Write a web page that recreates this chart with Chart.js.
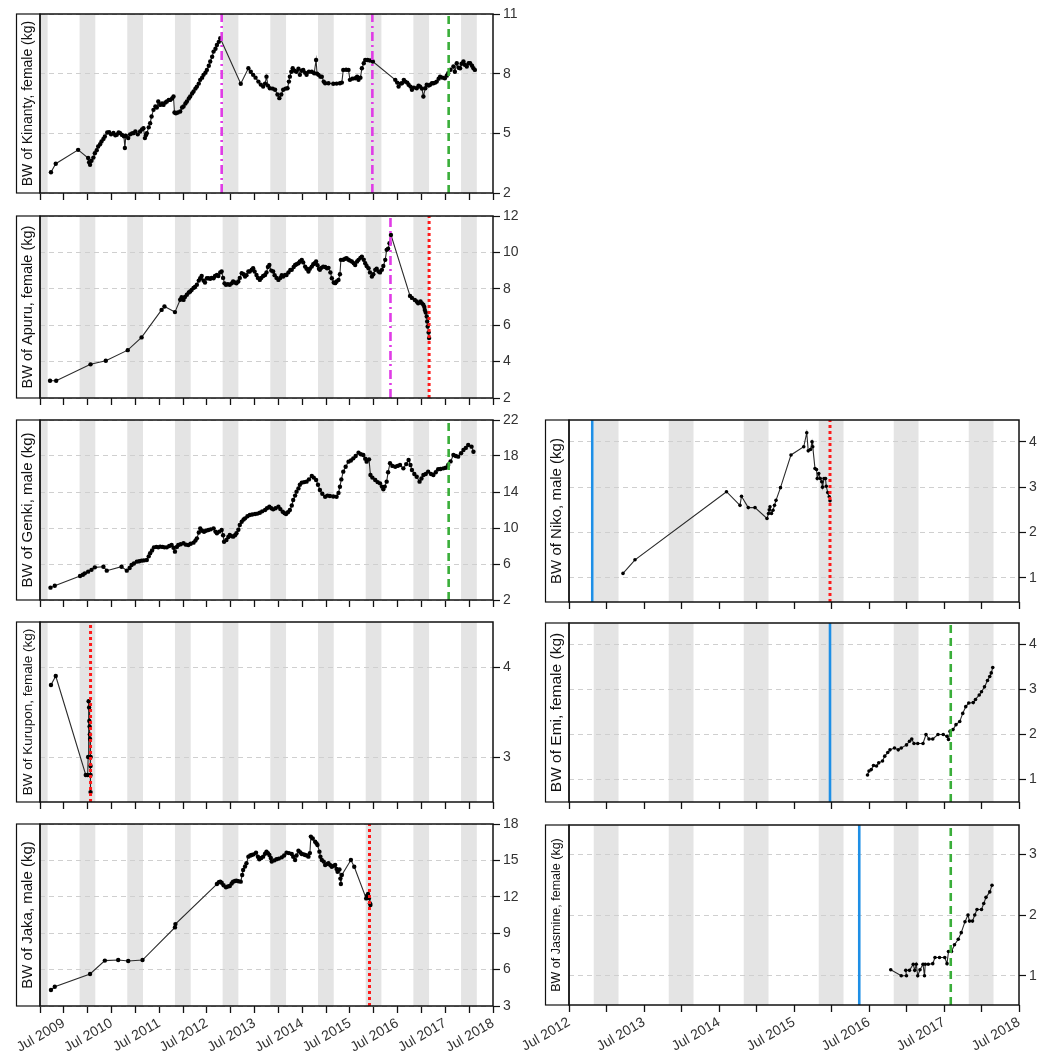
<!DOCTYPE html>
<html><head><meta charset="utf-8">
<script src="https://cdn.jsdelivr.net/npm/chart.js@4.4.1/dist/chart.umd.min.js"></script>
<style>
body{margin:0;background:#fff;width:1041px;height:1059px;position:relative;overflow:hidden}
canvas{position:absolute}
</style></head><body>
<canvas id="c1"></canvas><canvas id="c2"></canvas><canvas id="c3"></canvas><canvas id="c4"></canvas><canvas id="c5"></canvas>
<canvas id="c6"></canvas><canvas id="c7"></canvas><canvas id="c8"></canvas>
<script>
// ---------- tick labels / axis values ----------
const leftXTicks = [2009,2009.5,2010,2010.5,2011,2011.5,2012,2012.5,2013,2013.5,2014,2014.5,2015,2015.5,2016,2016.5,2017,2017.5,2018,2018.5];
const rightXTicks = [2012.5,2013,2013.5,2014,2014.5,2015,2015.5,2016,2016.5,2017,2017.5,2018,2018.5];
const wetStart = [2008.83,2009.83,2010.83,2011.83,2012.83,2013.83,2014.83,2015.83,2016.83,2017.83];
const wetEnd   = [2009.16,2010.16,2011.16,2012.16,2013.16,2014.16,2015.16,2016.16,2017.16,2018.16];

const kinantyYTicks = [2,5,8,11];
const apuruYTicks = [2,4,6,8,10,12];
const genkiYTicks = [2,6,10,14,18,22];
const kuruponYTicks = [3,4];
const jakaYTicks = [3,6,9,12,15,18];
const nikoYTicks = [1,2,3,4];
const emiYTicks = [1,2,3,4];
const jasmineYTicks = [1,2,3];

// ---------- body weight series [decimal year, kg] ----------
const kinanty = [[2009.23,3.04],[2009.33,3.47],[2009.80,4.17],[2010.01,3.76],[2010.03,3.55],[2010.05,3.42],[2010.08,3.62],[2010.12,3.78],[2010.15,4.00],[2010.19,4.15],[2010.22,4.34],[2010.26,4.45],[2010.29,4.59],[2010.33,4.72],[2010.36,4.84],[2010.41,5.04],[2010.45,5.06],[2010.49,4.95],[2010.54,5.02],[2010.58,4.90],[2010.61,4.93],[2010.65,5.05],[2010.68,5.01],[2010.72,4.92],[2010.76,4.85],[2010.78,4.26],[2010.80,4.88],[2010.85,4.76],[2010.89,4.95],[2010.93,5.00],[2010.96,5.01],[2011.00,5.10],[2011.05,4.95],[2011.10,5.09],[2011.14,5.20],[2011.17,5.26],[2011.20,4.76],[2011.22,4.90],[2011.24,5.01],[2011.28,5.30],[2011.31,5.51],[2011.34,5.85],[2011.38,6.18],[2011.42,6.35],[2011.45,6.30],[2011.48,6.60],[2011.52,6.43],[2011.56,6.50],[2011.59,6.43],[2011.63,6.55],[2011.66,6.60],[2011.70,6.68],[2011.73,6.68],[2011.77,6.75],[2011.80,6.85],[2011.82,6.05],[2011.85,6.01],[2011.89,6.05],[2011.94,6.10],[2011.98,6.30],[2012.01,6.35],[2012.05,6.50],[2012.08,6.60],[2012.12,6.75],[2012.15,6.85],[2012.19,7.00],[2012.22,7.10],[2012.26,7.25],[2012.29,7.35],[2012.33,7.50],[2012.36,7.69],[2012.40,7.80],[2012.43,7.94],[2012.47,8.05],[2012.50,8.19],[2012.54,8.40],[2012.57,8.61],[2012.61,8.85],[2012.64,9.11],[2012.68,9.25],[2012.71,9.44],[2012.75,9.60],[2012.78,9.78],
[2013.21,7.49],[2013.37,8.27],[2013.42,8.10],[2013.47,7.94],[2013.52,7.80],[2013.58,7.60],[2013.63,7.45],[2013.68,7.35],[2013.72,7.50],[2013.75,7.85],[2013.78,7.40],[2013.82,7.27],[2013.88,7.25],[2013.93,7.19],[2013.98,6.95],[2014.02,6.77],[2014.06,6.95],[2014.10,7.19],[2014.15,7.25],[2014.19,7.27],[2014.22,7.60],[2014.24,7.85],[2014.27,8.10],[2014.30,8.27],[2014.34,8.15],[2014.38,8.10],[2014.42,8.25],[2014.45,7.94],[2014.49,8.15],[2014.52,8.19],[2014.56,8.05],[2014.59,7.94],[2014.64,8.10],[2014.70,8.10],[2014.75,8.02],[2014.79,8.69],[2014.81,8.00],[2014.84,7.94],[2014.88,7.85],[2014.91,7.85],[2014.95,7.60],[2014.98,7.52],[2015.05,7.52],[2015.15,7.49],[2015.22,7.50],[2015.29,7.52],[2015.33,7.55],[2015.36,8.19],[2015.42,8.20],[2015.47,8.19],[2015.50,7.69],[2015.55,7.75],[2015.61,7.77],[2015.65,7.85],[2015.68,7.69],[2015.72,7.80],[2015.75,8.27],[2015.79,8.52],[2015.82,8.69],[2015.87,8.69],[2015.92,8.66],[2015.98,8.61],
[2016.45,7.69],[2016.49,7.55],[2016.52,7.35],[2016.56,7.50],[2016.59,7.52],[2016.63,7.69],[2016.66,7.60],[2016.70,7.55],[2016.73,7.44],[2016.77,7.35],[2016.80,7.19],[2016.84,7.30],[2016.90,7.27],[2016.94,7.40],[2016.97,7.35],[2017.01,7.25],[2017.04,6.85],[2017.08,7.27],[2017.11,7.44],[2017.15,7.40],[2017.18,7.44],[2017.22,7.52],[2017.25,7.52],[2017.29,7.55],[2017.32,7.60],[2017.36,7.75],[2017.39,7.85],[2017.44,7.80],[2017.49,7.77],[2017.53,7.90],[2017.56,8.02],[2017.61,8.20],[2017.67,8.36],[2017.70,8.10],[2017.74,8.52],[2017.78,8.30],[2017.81,8.27],[2017.84,8.50],[2017.88,8.61],[2017.91,8.45],[2017.95,8.36],[2017.99,8.52],[2018.02,8.52],[2018.06,8.40],[2018.09,8.27],[2018.12,8.19]];

const apuru = [[2009.21,2.95],[2009.34,2.95],[2010.06,3.85],[2010.38,4.05],[2010.84,4.63],[2011.13,5.33],[2011.55,6.84],[2011.61,7.03],[2011.83,6.72],[2011.94,7.40],[2011.97,7.54],[2012.01,7.39],[2012.04,7.55],[2012.08,7.67],[2012.12,7.80],[2012.15,7.85],[2012.18,7.94],[2012.22,8.05],[2012.25,8.10],[2012.29,8.22],[2012.33,8.45],[2012.36,8.58],[2012.39,8.70],[2012.43,8.45],[2012.46,8.34],[2012.50,8.58],[2012.53,8.58],[2012.57,8.55],[2012.60,8.60],[2012.64,8.58],[2012.67,8.70],[2012.71,8.76],[2012.74,8.70],[2012.78,8.90],[2012.81,8.95],[2012.84,8.60],[2012.87,8.30],[2012.90,8.22],[2012.94,8.25],[2012.98,8.22],[2013.02,8.30],[2013.05,8.40],[2013.09,8.35],[2013.12,8.30],[2013.16,8.40],[2013.19,8.60],[2013.23,8.86],[2013.27,8.80],[2013.30,8.67],[2013.33,8.75],[2013.37,8.95],[2013.40,8.95],[2013.44,9.05],[2013.47,9.13],[2013.50,8.95],[2013.54,8.76],[2013.57,8.60],[2013.61,8.49],[2013.64,8.60],[2013.68,8.70],[2013.72,8.76],[2013.75,8.90],[2013.78,9.20],[2013.81,9.31],[2013.85,9.00],[2013.89,8.95],[2013.92,8.75],[2013.96,8.60],[2014.00,8.49],[2014.04,8.60],[2014.07,8.75],[2014.10,8.67],[2014.14,8.76],[2014.17,8.76],[2014.21,8.90],[2014.25,9.04],[2014.28,9.04],[2014.32,9.20],[2014.35,9.31],[2014.38,9.35],[2014.42,9.40],[2014.45,9.50],[2014.49,9.59],[2014.52,9.45],[2014.56,9.22],[2014.59,9.10],[2014.63,8.95],[2014.66,9.10],[2014.70,9.22],[2014.73,9.35],[2014.76,9.40],[2014.79,9.50],[2014.82,9.30],[2014.85,9.10],[2014.87,9.04],[2014.90,9.15],[2014.94,9.22],[2014.98,9.20],[2015.02,9.13],[2015.05,9.15],[2015.09,8.90],[2015.12,8.58],[2015.16,8.35],[2015.19,8.31],[2015.22,8.40],[2015.26,8.49],[2015.29,8.80],[2015.31,9.59],[2015.36,9.60],[2015.40,9.65],[2015.43,9.68],[2015.47,9.60],[2015.50,9.55],[2015.54,9.50],[2015.58,9.40],[2015.61,9.31],[2015.65,9.50],[2015.68,9.59],[2015.72,9.70],[2015.75,9.77],[2015.79,9.60],[2015.82,9.40],[2015.85,9.25],[2015.89,9.13],[2015.92,8.90],[2015.96,8.67],[2015.99,8.80],[2016.03,9.04],[2016.06,9.10],[2016.10,8.95],[2016.13,8.90],[2016.17,9.04],[2016.20,9.25],[2016.24,9.59],[2016.27,10.14],[2016.30,10.20],[2016.33,10.50],[2016.36,10.96],
[2016.76,7.61],[2016.80,7.50],[2016.86,7.39],[2016.90,7.30],[2016.93,7.21],[2016.98,7.30],[2017.01,7.20],[2017.04,7.12],[2017.06,7.00],[2017.07,6.84],[2017.09,6.70],[2017.11,6.48],[2017.12,6.20],[2017.13,5.93],[2017.15,5.60],[2017.16,5.29]];

const genki = [[2009.22,3.37],[2009.31,3.59],[2009.84,4.67],[2009.90,4.80],[2009.94,4.96],[2010.01,5.15],[2010.08,5.35],[2010.15,5.63],[2010.33,5.70],[2010.40,5.26],[2010.71,5.70],[2010.82,5.26],[2010.88,5.55],[2010.92,5.89],[2010.97,6.05],[2011.03,6.26],[2011.08,6.30],[2011.13,6.37],[2011.18,6.40],[2011.24,6.44],[2011.28,6.85],[2011.31,7.19],[2011.35,7.50],[2011.39,7.85],[2011.44,7.90],[2011.48,7.85],[2011.52,7.93],[2011.57,7.90],[2011.61,7.85],[2011.66,7.85],[2011.71,8.00],[2011.76,8.11],[2011.80,7.80],[2011.83,7.37],[2011.87,7.90],[2011.90,8.11],[2011.95,8.20],[2012.01,8.30],[2012.06,8.15],[2012.11,8.11],[2012.16,8.25],[2012.22,8.37],[2012.26,8.60],[2012.29,8.85],[2012.33,9.50],[2012.36,9.96],[2012.40,9.70],[2012.44,9.59],[2012.48,9.70],[2012.53,9.78],[2012.58,9.85],[2012.64,9.96],[2012.68,9.60],[2012.71,9.41],[2012.76,9.60],[2012.81,9.78],[2012.84,9.20],[2012.86,8.48],[2012.91,8.67],[2012.95,9.00],[2012.98,9.22],[2013.02,9.10],[2013.05,9.04],[2013.09,9.20],[2013.12,9.41],[2013.16,9.80],[2013.19,10.33],[2013.23,10.70],[2013.27,10.95],[2013.30,11.07],[2013.35,11.30],[2013.40,11.44],[2013.45,11.50],[2013.51,11.56],[2013.56,11.60],[2013.61,11.70],[2013.66,11.85],[2013.72,12.00],[2013.76,12.20],[2013.81,12.37],[2013.85,12.20],[2013.89,12.07],[2013.94,12.20],[2014.00,12.37],[2014.04,12.10],[2014.09,11.81],[2014.13,11.65],[2014.16,11.56],[2014.20,11.75],[2014.24,12.00],[2014.28,12.50],[2014.31,13.11],[2014.35,13.60],[2014.38,14.04],[2014.42,14.40],[2014.45,14.80],[2014.49,15.04],[2014.54,15.10],[2014.59,15.15],[2014.64,15.40],[2014.70,15.78],[2014.74,15.60],[2014.79,15.33],[2014.83,14.80],[2014.87,14.22],[2014.92,13.80],[2014.98,13.48],[2015.03,13.60],[2015.08,13.56],[2015.15,13.50],[2015.22,13.48],[2015.26,13.90],[2015.29,14.59],[2015.32,15.40],[2015.36,16.26],[2015.41,16.80],[2015.47,17.37],[2015.52,17.50],[2015.57,17.74],[2015.62,18.00],[2015.68,18.37],[2015.73,18.20],[2015.78,18.11],[2015.82,17.70],[2015.85,17.37],[2015.90,17.63],[2015.93,15.89],[2015.97,15.60],[2016.03,15.33],[2016.08,15.10],[2016.13,14.96],[2016.17,14.60],[2016.20,14.30],[2016.23,14.60],[2016.27,15.15],[2016.30,16.20],[2016.34,17.19],[2016.39,16.90],[2016.45,16.81],[2016.50,16.90],[2016.55,17.00],[2016.62,16.63],[2016.68,17.10],[2016.73,17.56],[2016.77,17.00],[2016.80,16.44],[2016.85,16.00],[2016.90,15.70],[2016.96,15.15],[2017.00,15.50],[2017.04,15.89],[2017.09,16.00],[2017.14,16.26],[2017.20,16.00],[2017.25,15.89],[2017.30,16.20],[2017.35,16.52],[2017.40,16.55],[2017.46,16.63],[2017.51,16.70],[2017.56,17.00],[2017.61,17.40],[2017.67,18.11],[2017.72,18.00],[2017.77,17.93],[2017.83,18.30],[2017.88,18.67],[2017.93,18.90],[2017.98,19.22],[2018.05,19.04],[2018.09,18.48]];

const kurupon = [[2009.23,3.80],[2009.33,3.90],[2009.96,2.80],[2010.00,2.80],[2010.01,3.00],[2010.02,3.62],[2010.03,3.55],[2010.035,3.40],[2010.04,3.34],[2010.045,3.25],[2010.05,3.20],[2010.055,3.00],[2010.06,3.00],[2010.06,2.90],[2010.06,2.80],[2010.06,2.61]];

const jaka = [[2009.23,4.32],[2009.31,4.59],[2010.05,5.64],[2010.36,6.74],[2010.64,6.79],[2010.85,6.71],[2011.15,6.79],[2011.83,9.48],[2011.84,9.75],[2012.71,13.05],[2012.75,13.20],[2012.78,13.25],[2012.81,13.16],[2012.85,12.95],[2012.90,12.78],[2012.94,12.85],[2012.98,12.89],[2013.02,13.10],[2013.05,13.25],[2013.09,13.30],[2013.12,13.33],[2013.16,13.28],[2013.21,13.25],[2013.24,13.80],[2013.26,14.21],[2013.30,14.50],[2013.33,14.76],[2013.37,15.31],[2013.41,15.40],[2013.44,15.45],[2013.48,15.50],[2013.53,15.64],[2013.57,15.30],[2013.60,15.09],[2013.64,15.20],[2013.68,15.31],[2013.72,15.55],[2013.75,15.72],[2013.78,15.60],[2013.81,15.45],[2013.84,15.20],[2013.86,14.90],[2013.91,15.00],[2013.96,15.09],[2014.01,15.15],[2014.07,15.25],[2014.12,15.40],[2014.17,15.64],[2014.22,15.60],[2014.28,15.53],[2014.31,15.30],[2014.35,15.03],[2014.38,15.40],[2014.42,15.80],[2014.46,15.65],[2014.49,15.53],[2014.53,15.50],[2014.56,15.45],[2014.60,15.40],[2014.63,15.31],[2014.66,15.60],[2014.68,16.96],[2014.72,16.80],[2014.77,16.54],[2014.80,16.40],[2014.82,16.27],[2014.86,15.72],[2014.88,15.30],[2014.91,15.03],[2014.95,14.90],[2014.98,14.62],[2015.02,14.70],[2015.05,14.76],[2015.09,14.60],[2015.12,14.48],[2015.16,14.55],[2015.19,14.62],[2015.22,14.30],[2015.24,14.07],[2015.28,14.26],[2015.30,13.50],[2015.31,13.05],[2015.33,13.80],[2015.52,15.03],[2015.59,14.48],[2015.84,11.87],[2015.86,12.10],[2015.88,12.23],[2015.90,11.90],[2015.92,11.46],[2015.93,11.32]];

const niko = [[2013.22,1.10],[2013.38,1.40],[2014.60,2.90],[2014.78,2.60],[2014.80,2.80],[2014.89,2.55],[2014.98,2.55],[2015.14,2.31],[2015.16,2.42],[2015.17,2.50],[2015.18,2.57],[2015.20,2.42],[2015.22,2.49],[2015.24,2.60],[2015.26,2.71],[2015.32,2.99],[2015.46,3.71],[2015.63,3.89],[2015.67,4.20],[2015.69,3.80],[2015.72,3.83],[2015.74,4.00],[2015.75,3.89],[2015.78,3.41],[2015.80,3.39],[2015.81,3.19],[2015.83,3.30],[2015.85,3.19],[2015.87,3.12],[2015.88,3.00],[2015.90,3.19],[2015.92,3.19],[2015.93,3.02],[2015.95,2.88],[2015.97,2.79],[2015.98,2.70]];

const emi = [[2016.48,1.10],[2016.50,1.19],[2016.53,1.22],[2016.56,1.31],[2016.60,1.30],[2016.63,1.37],[2016.68,1.41],[2016.71,1.52],[2016.75,1.60],[2016.78,1.66],[2016.84,1.70],[2016.89,1.66],[2016.93,1.70],[2017.00,1.77],[2017.04,1.85],[2017.07,1.90],[2017.10,1.80],[2017.15,1.80],[2017.22,1.80],[2017.26,2.00],[2017.30,1.90],[2017.35,1.90],[2017.42,2.00],[2017.49,2.00],[2017.54,1.96],[2017.56,1.89],[2017.58,2.07],[2017.62,2.11],[2017.66,2.22],[2017.71,2.29],[2017.75,2.47],[2017.79,2.62],[2017.83,2.70],[2017.89,2.71],[2017.92,2.78],[2017.97,2.88],[2018.00,2.95],[2018.04,3.06],[2018.08,3.20],[2018.11,3.29],[2018.13,3.37],[2018.15,3.49]];

const jasmine = [[2016.79,1.10],[2016.93,1.00],[2017.00,1.00],[2016.99,1.09],[2017.04,1.09],[2017.09,1.19],[2017.11,1.09],[2017.13,1.19],[2017.15,1.00],[2017.18,1.10],[2017.22,1.19],[2017.24,1.00],[2017.25,1.19],[2017.29,1.19],[2017.35,1.20],[2017.38,1.30],[2017.44,1.30],[2017.51,1.30],[2017.54,1.20],[2017.56,1.40],[2017.60,1.40],[2017.64,1.51],[2017.69,1.60],[2017.73,1.71],[2017.78,1.89],[2017.82,2.00],[2017.84,1.90],[2017.88,1.90],[2017.91,2.00],[2017.94,2.09],[2018.00,2.09],[2018.03,2.19],[2018.06,2.29],[2018.11,2.38],[2018.14,2.49]];

// ---------- events (decimal year, kind) ----------
const kinantyEvents = [[2012.81,'magenta'],[2015.97,'magenta'],[2017.57,'green']];
const apuruEvents = [[2016.35,'magenta'],[2017.16,'red']];
const genkiEvents = [[2017.57,'green']];
const kuruponEvents = [[2010.06,'red']];
const jakaEvents = [[2015.91,'red']];
const nikoEvents = [[2012.81,'blue'],[2015.98,'red']];
const emiEvents = [[2015.98,'blue'],[2017.59,'green']];
const jasmineEvents = [[2016.37,'blue'],[2017.59,'green']];

const eventStyle = {
  magenta:{color:'#E03CE6', width:2.6, dash:[9,4,2,4]},
  green:{color:'#3AAE3A', width:2.6, dash:[8,5]},
  red:{color:'#FF1A1A', width:3, dash:[3,3]},
  blue:{color:'#1E8FE6', width:2.6, dash:[]}
};

Chart.defaults.font.family = "'Liberation Sans', Arial, sans-serif";

const panels = [
  {id:'c1', col:0, top:14, bot:193, data:kinanty, ev:kinantyEvents, yMin:2, yMax:11, yTicks:kinantyYTicks, title:'BW of Kinanty, female (kg)', ts:14, bottom:false},
  {id:'c2', col:0, top:216, bot:398, data:apuru, ev:apuruEvents, yMin:2, yMax:12, yTicks:apuruYTicks, title:'BW of Apuru, female (kg)', ts:14.5, bottom:false},
  {id:'c3', col:0, top:420, bot:600, data:genki, ev:genkiEvents, yMin:2, yMax:22, yTicks:genkiYTicks, title:'BW of Genki, male (kg)', ts:15, bottom:false},
  {id:'c4', col:0, top:622, bot:802, data:kurupon, ev:kuruponEvents, yMin:2.5, yMax:4.5, yTicks:kuruponYTicks, title:'BW of Kurupon, female (kg)', ts:13.5, bottom:false},
  {id:'c5', col:0, top:824, bot:1006, data:jaka, ev:jakaEvents, yMin:3, yMax:18, yTicks:jakaYTicks, title:'BW of Jaka, male (kg)', ts:15, bottom:true},
  {id:'c6', col:1, top:420, bot:602, data:niko, ev:nikoEvents, yMin:0.47, yMax:4.48, yTicks:nikoYTicks, title:'BW of Niko, male (kg)', ts:15, bottom:false},
  {id:'c7', col:1, top:623, bot:802, data:emi, ev:emiEvents, yMin:0.5, yMax:4.48, yTicks:emiYTicks, title:'BW of Emi, female (kg)', ts:15.5, bottom:false},
  {id:'c8', col:1, top:825, bot:1005, data:jasmine, ev:jasmineEvents, yMin:0.52, yMax:3.48, yTicks:jasmineYTicks, title:'BW of Jasmine, female (kg)', ts:12.5, bottom:true}
];

const decor = {
  id:'decor',
  beforeDraw(chart){
    const {ctx, chartArea:a, scales:{x}} = chart;
    ctx.save();
    ctx.beginPath(); ctx.rect(a.left, a.top, a.right-a.left, a.bottom-a.top); ctx.clip();
    ctx.fillStyle = '#e4e4e4';
    wetStart.forEach((s,i)=>{
      const x0 = x.getPixelForValue(s), x1 = x.getPixelForValue(wetEnd[i]);
      ctx.fillRect(x0, a.top, x1-x0, a.bottom-a.top);
    });
    ctx.restore();
  },
  afterDraw(chart){
    const {ctx, chartArea:a} = chart;
    const t = chart.scales.yT;
    ctx.save();
    ctx.strokeStyle = '#111';
    ctx.lineWidth = 1.5;
    ctx.strokeRect(a.left, a.top, a.right-a.left, a.bottom-a.top);
    ctx.lineWidth = 1.2;
    ctx.strokeRect(t.left+0.5, a.top, t.right-t.left-0.5, a.bottom-a.top);
    ctx.restore();
  }
};

panels.forEach(p=>{
  const cv = document.getElementById(p.id);
  const left = p.col===0 ? 0 : 500;
  const W = p.col===0 ? 522 : 541;
  const padLeft = p.col===0 ? 16 : 45;
  const rightW = p.col===0 ? 29 : 22;
  const padTop = 12;
  const xH = p.bottom ? 52 : 9;
  const H = (p.bot - p.top) + padTop + xH + 2;
  cv.style.left = left+'px'; cv.style.top = (p.top-padTop)+'px';
  cv.width = W; cv.height = H; cv.style.width = W+'px'; cv.style.height = H+'px';
  const xMin = p.col===0 ? 2009 : 2012.5, xMax = 2018.5;
  const xTicks = p.col===0 ? leftXTicks : rightXTicks;

  const evSets = p.ev.map(e=>{
    const s = eventStyle[e[1]];
    return {data:[{x:e[0],y:p.yMin},{x:e[0],y:p.yMax}], borderColor:s.color, borderWidth:s.width, borderDash:s.dash, pointRadius:0, order:0, borderCapStyle:'butt'};
  });
  const pr = p.col===0 ? 2.2 : 1.8;
  const series = {
    data: p.data.map(d=>({x:d[0], y:d[1]})),
    borderColor:'#2a2a2a', borderWidth:1.1, tension:0,
    pointRadius:pr, pointBackgroundColor:'#000', pointBorderWidth:0, pointHoverRadius:pr,
    order:1
  };

  new Chart(cv, {
    type:'line',
    data:{datasets:[...evSets, series]},
    options:{
      responsive:false, animation:false, devicePixelRatio:1,
      events:[],
      layout:{padding:{left:padLeft, top:padTop, right:0, bottom:2}},
      plugins:{legend:{display:false}, tooltip:{enabled:false}},
      scales:{
        x:{type:'linear', position:'bottom', min:xMin, max:xMax,
          afterBuildTicks:s=>{ s.ticks = xTicks.map(v=>({value:v})); },
          afterFit:s=>{ s.height = xH; s.paddingLeft = 0; s.paddingRight = 0; },
          grid:{drawOnChartArea:false, drawTicks:true, tickLength:7, tickColor:'#111', tickWidth:1.3},
          border:{display:false},
          ticks:{autoSkip:false, maxRotation:p.bottom?30:0, minRotation:p.bottom?30:0, padding:2,
            font:{size:14}, color:'#333',
            callback:v=> (p.bottom && Math.abs((v%1)-0.5)<1e-6) ? 'Jul '+Math.floor(v) : ''}
        },
        y:{type:'linear', position:'right', min:p.yMin, max:p.yMax,
          afterBuildTicks:s=>{ s.ticks = p.yTicks.map(v=>({value:v})); },
          afterFit:s=>{ s.width = rightW; s.paddingTop = 0; s.paddingBottom = 0; },
          grid:{color:'#cfcfcf', lineWidth:1, drawTicks:true, tickLength:7, tickColor:'#111', tickWidth:1.2, tickBorderDash:[]},
          border:{display:false, dash:[5,4]},
          ticks:{font:{size:14}, color:'#333', padding:3, callback:v=>String(v)}
        },
        yT:{type:'linear', position:'left', min:0, max:1,
          afterFit:s=>{ s.width = 24; },
          ticks:{display:false}, grid:{display:false}, border:{display:false},
          title:{display:true, text:p.title, color:'#111', font:{size:p.ts}, padding:{top:12-0.6*p.ts, bottom:0}}
        }
      }
    },
    plugins:[decor]
  });
});
</script>
</body></html>
